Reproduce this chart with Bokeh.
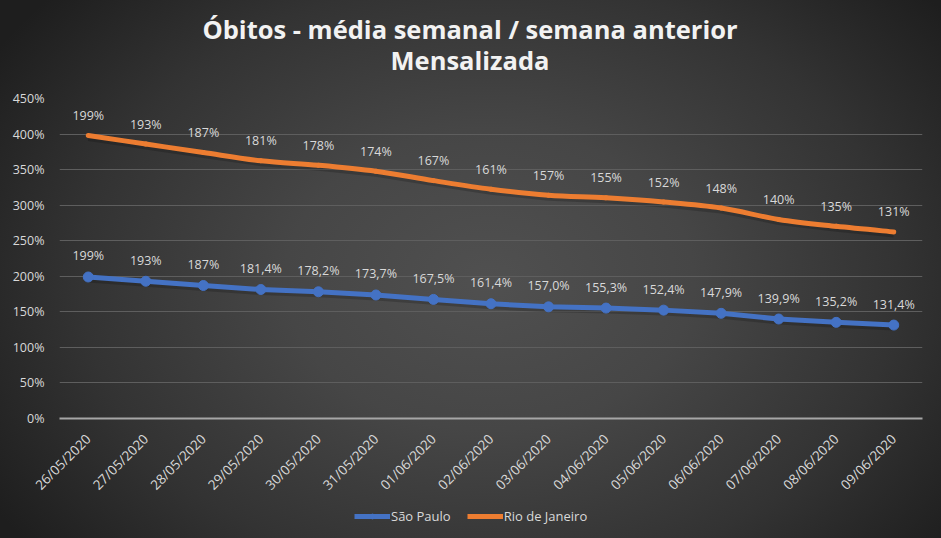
import numpy as np
from bokeh.plotting import figure
from bokeh.layouts import column
from bokeh.models import (ColumnDataSource, FixedTicker, PrintfTickFormatter, LabelSet,
                          Legend, LegendItem, Label, Range1d)
from bokeh.core.properties import value
from bokeh.embed import file_html
from bokeh.resources import INLINE

title_lines = ["Óbitos - média semanal / semana anterior", "Mensalizada"]
dates = ["26/05/2020", "27/05/2020", "28/05/2020", "29/05/2020", "30/05/2020",
         "31/05/2020", "01/06/2020", "02/06/2020", "03/06/2020", "04/06/2020",
         "05/06/2020", "06/06/2020", "07/06/2020", "08/06/2020", "09/06/2020"]
sao_paulo = [199, 193, 187, 181.4, 178.2, 173.7, 167.5, 161.4, 157.0, 155.3,
             152.4, 147.9, 139.9, 135.2, 131.4]
sao_paulo_labels = ["199%", "193%", "187%", "181,4%", "178,2%", "173,7%", "167,5%",
                    "161,4%", "157,0%", "155,3%", "152,4%", "147,9%", "139,9%",
                    "135,2%", "131,4%"]
rio = [199, 193, 187, 181, 178, 174, 167, 161, 157, 155, 152, 148, 140, 135, 131]
rio_labels = ["199%", "193%", "187%", "181%", "178%", "174%", "167%", "161%",
              "157%", "155%", "152%", "148%", "140%", "135%", "131%"]
y_ticks = [0, 50, 100, 150, 200, 250, 300, 350, 400, 450]

FONT = "Open Sans"
TXT = "#d9d9d9"
BLUE = "#4472C4"
ORANGE = "#ED7D31"
W = 941
FRAME_SHIFT = 60  # observed left offset of the frame in the bare strips


def bare_figure(height):
    f = figure(width=W, height=height, output_backend="svg", toolbar_location=None,
               x_range=Range1d(0, 1), y_range=Range1d(0, 1),
               x_axis_location=None, y_axis_location=None, min_border=0)
    f.background_fill_alpha = 0
    f.border_fill_alpha = 0
    f.outline_line_color = None
    f.grid.grid_line_color = None
    return f


# ---- title strip ----
TH = 86
tf = bare_figure(TH)
for txt, yc in zip(title_lines, [TH - 28, TH - 59]):
    tf.add_layout(Label(x=W / 2 - FRAME_SHIFT, y=yc, x_units="screen", y_units="screen",
                        text=txt, text_align="center", text_baseline="middle",
                        text_font=FONT, text_font_size="25.5px",
                        text_font_style="bold", text_color="#f2f2f2"))

# ---- main chart ----
x = np.arange(len(dates))
sp = np.array(sao_paulo, dtype=float)
rj_stacked = sp + np.array(rio, dtype=float)  # stacked line chart

p = figure(width=W, height=416, output_backend="svg", toolbar_location=None,
           x_range=Range1d(-0.5, len(dates) - 0.5), y_range=Range1d(0, 450),
           min_border_left=59, min_border_right=19, min_border_top=12,
           min_border_bottom=84)
p.background_fill_alpha = 0
p.border_fill_alpha = 0
p.outline_line_color = None

p.yaxis.ticker = FixedTicker(ticks=y_ticks)
p.yaxis.formatter = PrintfTickFormatter(format="%d%%")
p.yaxis.axis_line_color = None
p.yaxis.major_tick_line_color = None
p.yaxis.minor_tick_line_color = None
p.yaxis.major_label_text_color = TXT
p.yaxis.major_label_text_font = FONT
p.yaxis.major_label_text_font_size = "12.5px"
p.yaxis.major_label_standoff = 9

p.xaxis.ticker = FixedTicker(ticks=list(x))
p.xaxis.major_label_overrides = {int(i): d for i, d in zip(x, dates)}
p.xaxis.major_label_orientation = np.pi / 4
p.xaxis.axis_line_color = "#a6a6a6"
p.xaxis.axis_line_width = 2
p.xaxis.major_tick_line_color = None
p.xaxis.minor_tick_line_color = None
p.xaxis.major_label_text_color = TXT
p.xaxis.major_label_text_font = FONT
p.xaxis.major_label_text_font_size = "13.5px"
p.xaxis.major_label_standoff = 12

p.xgrid.grid_line_color = None
p.ygrid.grid_line_color = "#5e5e5e"
p.ygrid.grid_line_width = 1

# Rio de Janeiro: smoothed (stacked) line via bezier segments
prev = np.concatenate([[rj_stacked[0]], rj_stacked[:-1]])
nxt = np.concatenate([rj_stacked[1:], [rj_stacked[-1]]])
xp = np.concatenate([[x[0]], x[:-1]])
xn = np.concatenate([x[1:], [x[-1]]])
bz = ColumnDataSource(dict(
    x0=x[:-1], y0=rj_stacked[:-1], x1=x[1:], y1=rj_stacked[1:],
    cx0=x[:-1] + (xn[:-1] - xp[:-1]) / 6.0,
    cy0=rj_stacked[:-1] + (nxt[:-1] - prev[:-1]) / 6.0,
    cx1=x[1:] - (xn[1:] - xp[1:]) / 6.0,
    cy1=rj_stacked[1:] - (nxt[1:] - prev[1:]) / 6.0,
))
shadow_src = ColumnDataSource(dict(x=x, y=rj_stacked - 3.5))
p.line("x", "y", source=shadow_src, line_color="black", line_alpha=0.18, line_width=6)
p.bezier(x0="x0", y0="y0", x1="x1", y1="y1", cx0="cx0", cy0="cy0",
         cx1="cx1", cy1="cy1", source=bz, line_color=ORANGE, line_width=5,
         line_cap="round")

# São Paulo
sp_src = ColumnDataSource(dict(x=x, y=sp, lab=sao_paulo_labels))
sp_sh = ColumnDataSource(dict(x=x, y=sp - 3.5))
p.line("x", "y", source=sp_sh, line_color="black", line_alpha=0.18, line_width=6)
p.line("x", "y", source=sp_src, line_color=BLUE, line_width=5)
p.scatter("x", "y", source=sp_src, size=10, fill_color=BLUE, line_color=BLUE)

rj_src = ColumnDataSource(dict(x=x, y=rj_stacked, lab=rio_labels))

p.add_layout(LabelSet(x="x", y="y", text="lab", source=sp_src, y_offset=21,
                      text_align="center", text_baseline="middle", text_color=TXT,
                      text_font=value(FONT), text_font_size="12.5px"))
p.add_layout(LabelSet(x="x", y="y", text="lab", source=rj_src, y_offset=20,
                      text_align="center", text_baseline="middle", text_color=TXT,
                      text_font=value(FONT), text_font_size="12.5px"))

# ---- legend strip ----
lf = bare_figure(36)
l_sp = lf.line(x=[5, 6], y=[5, 6], line_color=BLUE, line_width=5)
s_sp = lf.scatter(x=[5], y=[5], size=10, fill_color=BLUE, line_color=BLUE)
l_rj = lf.line(x=[5, 6], y=[5, 6], line_color=ORANGE, line_width=5)
legend = Legend(items=[LegendItem(label="São Paulo", renderers=[l_sp, s_sp]),
                       LegendItem(label="Rio de Janeiro", renderers=[l_rj])],
                orientation="horizontal", location=(291, 9),
                background_fill_alpha=0, border_line_alpha=0,
                label_text_color=TXT, label_text_font=FONT,
                label_text_font_size="13px", glyph_width=36, glyph_height=12,
                label_standoff=1, spacing=16, padding=4, margin=0)
lf.add_layout(legend, "center")

layout = column(tf, p, lf, spacing=0)

html = file_html(layout, INLINE)
css = ("<style>html{min-height:100%;background:radial-gradient(ellipse 62% 80% at 52% 52%, "
       "#505050 0%, #464646 35%, #333333 70%, #1e1e1e 100%);}"
       "body{margin:0;overflow:hidden;}</style>")
html = html.replace("</head>", css + "</head>", 1)
open("out.html", "w").write(html)
